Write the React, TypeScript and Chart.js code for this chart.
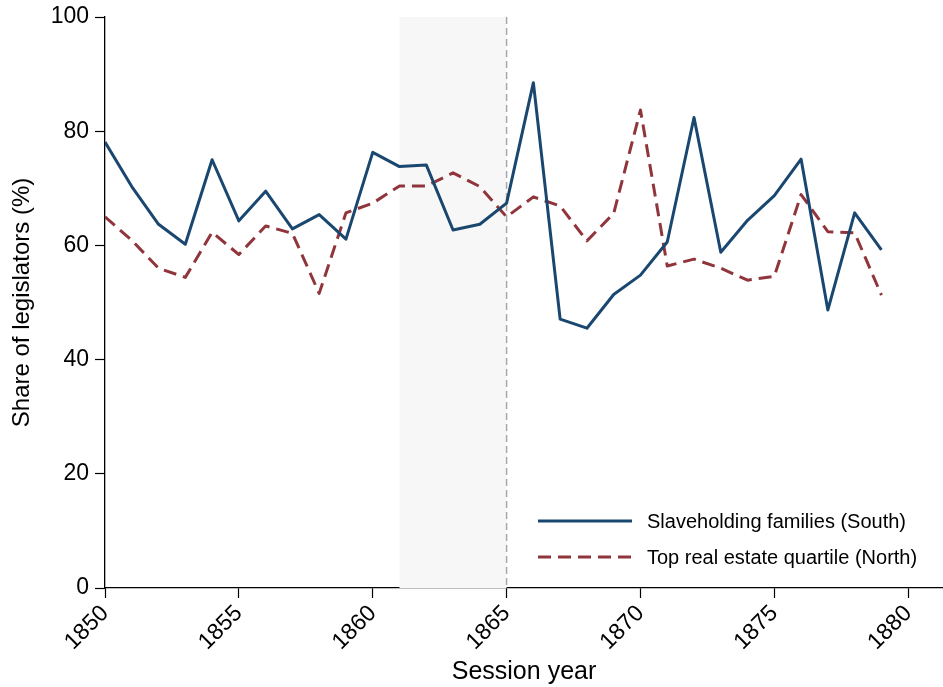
import React, { useEffect, useRef } from "react";
import { Chart, registerables } from "chart.js";

Chart.register(...registerables);

const years = [
  1850, 1851, 1852, 1853, 1854, 1855, 1856, 1857, 1858, 1859,
  1860, 1861, 1862, 1863, 1864, 1865, 1866, 1867, 1868, 1869,
  1870, 1871, 1872, 1873, 1874, 1875, 1876, 1877, 1878, 1879,
];
const south = [
  78.1, 70.3, 63.7, 60.2, 75.0, 64.3, 69.5, 62.9, 65.4, 61.1,
  76.3, 73.8, 74.1, 62.7, 63.7, 67.4, 88.5, 47.1, 45.5, 51.4,
  54.8, 60.6, 82.4, 58.8, 64.4, 68.7, 75.1, 48.7, 65.7, 59.2,
];
const north = [
  65.0, 60.9, 56.0, 54.4, 62.3, 58.4, 63.4, 62.1, 51.6, 65.7,
  67.4, 70.4, 70.4, 72.7, 70.3, 65.0, 68.5, 66.9, 60.8, 65.6,
  83.7, 56.4, 57.6, 56.0, 53.9, 54.6, 68.9, 62.4, 62.2, 51.3,
];
const xTicks = [1850, 1855, 1860, 1865, 1870, 1875, 1880];
const yTicks = [0, 20, 40, 60, 80, 100];
const seriesLabels = ["Slaveholding families (South)", "Top real estate quartile (North)"];
const warStart = 1861;
const warEnd = 1865;

const BLUE = "#1a476f";
const RED = "#90353b";
const FONT = "'Liberation Sans', Arial, Helvetica, sans-serif";

const shadePlugin = {
  id: "shade",
  beforeDatasetsDraw(chart: any) {
    const { ctx, chartArea, scales } = chart;
    const x1 = scales.x.getPixelForValue(warStart);
    const x2 = scales.x.getPixelForValue(warEnd);
    ctx.save();
    ctx.fillStyle = "#f7f7f7";
    ctx.fillRect(x1, chartArea.top, x2 - x1, chartArea.bottom - chartArea.top);
    ctx.strokeStyle = "#a8a8a8";
    ctx.lineWidth = 1.5;
    ctx.setLineDash([7, 4]);
    ctx.beginPath();
    ctx.moveTo(x2, chartArea.top);
    ctx.lineTo(x2, chartArea.bottom);
    ctx.stroke();
    ctx.restore();
  },
};

const legendPlugin = {
  id: "insideLegend",
  afterDraw(chart: any) {
    const { ctx, chartArea } = chart;
    const x0 = chartArea.right - 405;
    const y0 = chartArea.bottom - 67;
    const rows = [
      { label: seriesLabels[0], color: BLUE, dash: [] as number[] },
      { label: seriesLabels[1], color: RED, dash: [13, 7] },
    ];
    ctx.save();
    ctx.font = `20px ${FONT}`;
    ctx.textBaseline = "middle";
    rows.forEach((r, i) => {
      const y = y0 + i * 36;
      ctx.strokeStyle = r.color;
      ctx.lineWidth = 3;
      ctx.setLineDash(r.dash);
      ctx.beginPath();
      ctx.moveTo(x0, y);
      ctx.lineTo(x0 + 94, y);
      ctx.stroke();
      ctx.fillStyle = "#000";
      ctx.fillText(r.label, x0 + 109, y + 1);
    });
    ctx.restore();
  },
};

export default function App() {
  const ref = useRef<HTMLCanvasElement | null>(null);
  useEffect(() => {
    document.body.style.margin = "0";
    if (!ref.current) return;
    const chart = new Chart(ref.current, {
      type: "line",
      data: {
        datasets: [
          {
            label: seriesLabels[0],
            data: years.map((y, i) => ({ x: y, y: south[i] })),
            borderColor: BLUE,
            borderWidth: 3,
            borderJoinStyle: "round",
            pointRadius: 0,
            tension: 0,
          },
          {
            label: seriesLabels[1],
            data: years.map((y, i) => ({ x: y, y: north[i] })),
            borderColor: RED,
            borderWidth: 3,
            borderJoinStyle: "round",
            borderDash: [13, 7],
            pointRadius: 0,
            tension: 0,
          },
        ],
      },
      options: {
        animation: false,
        responsive: false,
        layout: { padding: { top: 17, right: 0, left: 0, bottom: 0 } },
        plugins: { legend: { display: false }, tooltip: { enabled: false } },
        scales: {
          x: {
            type: "linear",
            min: 1850,
            max: 1881.3,
            afterBuildTicks: (axis: any) => {
              axis.ticks = xTicks.map((v) => ({ value: v }));
            },
            afterFit: (scale: any) => {
              scale.height = 99;
              scale.paddingLeft = 0;
              scale.paddingRight = 0;
            },
            grid: {
              drawOnChartArea: false,
              drawTicks: true,
              tickLength: 10,
              tickColor: "#000",
              tickWidth: 1.2,
            },
            border: { display: true, color: "#000", width: 1.3 },
            ticks: {
              color: "#000",
              font: { family: FONT, size: 23 },
              maxRotation: 45,
              minRotation: 45,
              padding: 2,
              autoSkip: false,
              callback: (v: any) => String(v),
            },
            title: {
              display: true,
              text: "Session year",
              color: "#000",
              font: { family: FONT, size: 25 },
              padding: { top: 0, bottom: 0 },
            },
          },
          y: {
            min: 0,
            max: 100,
            afterBuildTicks: (axis: any) => {
              axis.ticks = yTicks.map((v) => ({ value: v }));
            },
            afterFit: (scale: any) => {
              scale.width = 105;
              scale.paddingTop = 0;
              scale.paddingBottom = 0;
            },
            grid: {
              drawOnChartArea: false,
              drawTicks: true,
              tickLength: 10,
              tickColor: "#000",
              tickWidth: 1.2,
            },
            border: { display: true, color: "#000", width: 1.3 },
            ticks: {
              color: "#000",
              font: { family: FONT, size: 23 },
              padding: 6,
            },
            title: {
              display: true,
              text: "Share of legislators (%)",
              color: "#000",
              font: { family: FONT, size: 24 },
              padding: { top: 8, bottom: 0 },
            },
          },
        },
      },
      plugins: [shadePlugin, legendPlugin],
    } as any);
    return () => chart.destroy();
  }, []);
  return (
    <div style={{ width: 943, height: 687, background: "#fff" }}>
      <canvas ref={ref} width={943} height={687} style={{ display: "block" }} />
    </div>
  );
}
